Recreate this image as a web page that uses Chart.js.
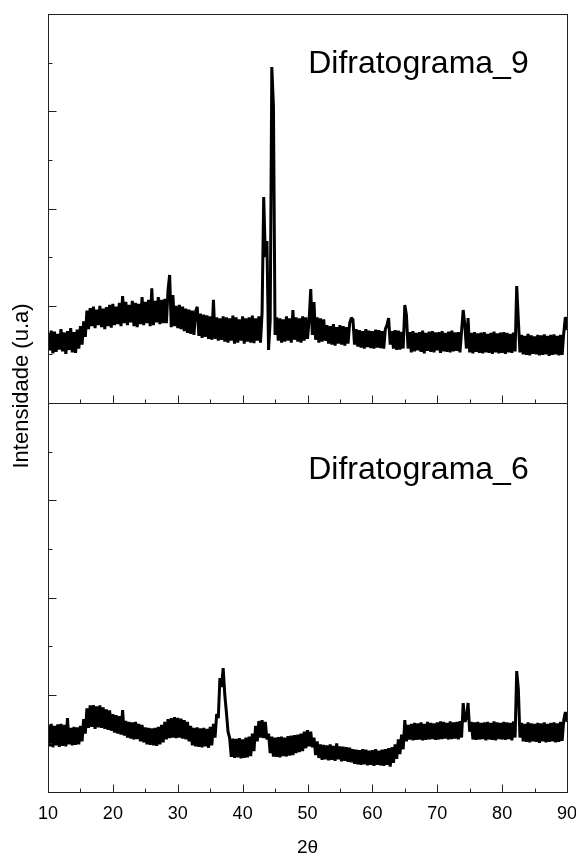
<!DOCTYPE html>
<html>
<head>
<meta charset="utf-8">
<script src="https://cdn.jsdelivr.net/npm/chart.js@4.4.1/dist/chart.umd.min.js"></script>
<style>
  html,body{margin:0;padding:0;background:#fff;}
  #wrap{width:576px;height:857px;position:relative;}
</style>
</head>
<body>
<div id="wrap"><canvas id="xrd"></canvas></div>
<script>
// 2theta grid, 0.25 deg step from 10 to 90
const twoTheta = [];
for (let i = 0; i <= 320; i++) twoTheta.push(10 + i * 0.25);

// Difratograma_9 (upper panel), counts
const d9 = [
  720,540,745,510, 735,525,710,550,
  760,530,725,505, 740,545,770,520,
  730,515,755,560, 790,600,840,680,
  950,760,975,790, 990,770,960,800,
  1000,780,970,760, 985,790,1010,775,
  1020,800,990,810, 1030,790,1100,820,
  1040,800,1010,830, 1050,790,1030,780,
  1020,810,1090,800, 1040,820,1060,790,
  1180,800,1050,830, 1090,810,1060,820,
  1070,820,1160,1316, 780,1110,790,1000,
  770,1010,760,990, 740,970,720,960,
  710,950,700,940, 990,690,920,670,
  910,680,900,660, 890,650,1060,660,
  880,640,870,650, 890,630,880,620,
  870,640,900,610, 880,620,860,640,
  890,610,870,630, 880,620,900,615,
  870,640,890,620, 930,2118,1501,1666,
  545,853,3454,3053, 700,880,640,870,
  620,860,630,890, 640,870,620,956,
  650,880,630,870, 620,890,640,880,
  660,850,1172,700, 1038,650,880,620,
  870,630,860,640, 800,610,790,600,
  810,590,780,610, 800,600,790,590,
  780,610,820,874, 860,600,760,580,
  750,570,740,560, 760,575,745,565,
  740,560,755,570, 750,565,740,560,
  760,800,874,600, 740,560,750,545,
  745,550,730,560, 1008,905,560,730,
  520,740,530,720, 540,730,525,745,
  510,720,535,735, 525,740,520,725,
  540,730,515,740, 530,720,525,735,
  520,745,530,725, 535,730,520,740,
  956,800,560,874, 520,720,510,730,
  525,715,515,725, 510,730,520,710,
  515,720,505,735, 520,715,510,725,
  515,730,505,720, 520,710,515,725,
  530,1203,853,520, 700,500,690,495,
  710,490,695,505, 685,500,700,490,
  695,495,705,500, 690,485,700,495,
  705,500,690,490, 700,495,720,884,
  750
];

// Difratograma_6 (lower panel)
const d6 = [
  690,470,700,460, 680,480,695,465,
  700,475,690,470, 761,490,660,480,
  670,485,665,490, 680,520,750,600,
  860,660,890,670, 894,650,880,665,
  890,660,870,650, 850,640,840,630,
  800,610,790,600, 780,590,843,580,
  730,560,720,550, 715,540,720,545,
  700,520,690,510, 665,490,660,485,
  655,480,660,475, 670,490,690,510,
  720,540,750,555, 760,560,770,555,
  761,560,755,550, 740,540,720,520,
  680,480,660,470, 665,465,655,460,
  660,470,650,455, 670,480,700,560,
  800,760,1172,1080, 1275,1000,820,620,
  555,360,550,350, 545,355,555,345,
  540,350,560,355, 570,370,600,420,
  680,520,730,560, 740,555,720,540,
  600,400,570,365, 560,360,565,355,
  570,370,560,365, 575,375,580,380,
  585,400,590,410, 600,420,620,450,
  637,470,620,460, 560,380,520,350,
  490,330,485,335, 480,325,490,330,
  475,320,500,335, 470,315,465,320,
  460,310,455,305, 440,290,435,285,
  430,280,440,285, 435,275,425,280,
  430,270,440,280, 425,275,435,270,
  440,280,450,260, 460,300,490,340,
  540,390,590,440, 740,520,690,540,
  700,530,710,535, 705,540,715,530,
  700,535,720,540, 710,545,705,535,
  715,540,725,545, 720,550,710,540,
  725,545,715,550, 720,540,730,560,
  915,720,760,915, 620,720,540,715,
  535,720,540,710, 545,715,530,720,
  540,710,535,725, 530,715,545,710,
  540,720,535,715, 545,710,530,725,
  560,1244,1059,560, 710,520,700,515,
  715,510,705,520, 700,515,710,505,
  705,520,715,510, 700,515,710,520,
  715,510,705,515, 720,525,740,822,
  720
];

// inward tick marks
const xTicks = [10,15,20,25,30,35,40,45,50,55,60,65,70,75,80,85,90];
const yTicks = [500,1000,1500,2000,2500,3000,3500];

const FONT = '"Liberation Sans", Arial, sans-serif';
Chart.defaults.font.family = FONT;
Chart.defaults.color = '#000';

// frame, ticks pointing in, panel names and the shared y title
const panelDeco = {
  id: 'panelDeco',
  afterDatasetsDraw(chart){
    const {ctx, scales} = chart;
    const x = scales.x;
    ctx.save();
    ctx.strokeStyle = '#222';
    ctx.lineWidth = 1;

    const line = (x1,y1,x2,y2)=>{
      ctx.beginPath(); ctx.moveTo(x1,y1); ctx.lineTo(x2,y2); ctx.stroke();
    };

    ['y9','y6'].forEach(id=>{
      const y = scales[id];
      const top = Math.round(y.top) + 0.5, bot = Math.round(y.bottom) + 0.5;
      const l = Math.round(x.left) + 0.5, r = Math.round(x.right) + 0.5;
      ctx.strokeRect(l, top, r - l, bot - top);

      yTicks.forEach(v=>{
        const py = Math.round(y.getPixelForValue(v)) + 0.5;
        line(l, py, l + (v % 1000 === 0 ? 8 : 4), py);
      });
      xTicks.forEach(v=>{
        const px = Math.round(x.getPixelForValue(v)) + 0.5;
        line(px, bot, px, bot - (v % 10 === 0 ? 8 : 4));
      });
    });

    ctx.fillStyle = '#000';
    ctx.textAlign = 'center';
    ctx.textBaseline = 'middle';
    ctx.font = '32px ' + FONT;
    ctx.fillText('Difratograma_9', x.getPixelForValue(67.1), scales.y9.getPixelForValue(3485));
    ctx.fillText('Difratograma_6', x.getPixelForValue(67.1), scales.y6.getPixelForValue(3310));

    ctx.translate(22, 386);
    ctx.rotate(-Math.PI/2);
    ctx.font = '22px ' + FONT;
    ctx.fillText('Intensidade (u.a)', 0, 0);
    ctx.restore();
  }
};

const hiddenY = (weight)=>({
  type:'linear',
  position:'left',
  stack:'panels',
  stackWeight:1,
  weight:weight,
  min:0,
  max:4000,
  ticks:{display:false},
  grid:{display:false, drawTicks:false},
  border:{display:false}
});

new Chart(document.getElementById('xrd'),{
  type:'line',
  data:{
    labels:twoTheta,
    datasets:[
      {label:'Difratograma_9', data:d9, yAxisID:'y9', borderColor:'#000', borderWidth:3, pointRadius:0, tension:0, borderJoinStyle:'bevel'},
      {label:'Difratograma_6', data:d6, yAxisID:'y6', borderColor:'#000', borderWidth:3, pointRadius:0, tension:0, borderJoinStyle:'bevel'}
    ]
  },
  options:{
    responsive:true,
    maintainAspectRatio:false,
    animation:false,
    layout:{padding:{left:48, right:9, top:14, bottom:0}},
    plugins:{legend:{display:false}, tooltip:{enabled:false}},
    scales:{
      x:{
        type:'linear',
        min:10,
        max:90,
        // the end labels may hang over the frame, as in the original
        afterFit:(s)=>{ s.paddingLeft = 0; s.paddingRight = 0; },
        ticks:{stepSize:10, padding:11, font:{size:18}, color:'#000', maxRotation:0},
        grid:{display:false, drawTicks:false},
        border:{display:false},
        title:{display:true, text:'2θ', font:{size:19, lineHeight:1}, color:'#000', padding:{top:2.4, bottom:0}}
      },
      y9:hiddenY(1),
      y6:hiddenY(0)
    }
  },
  plugins:[panelDeco]
});
</script>
</body>
</html>
